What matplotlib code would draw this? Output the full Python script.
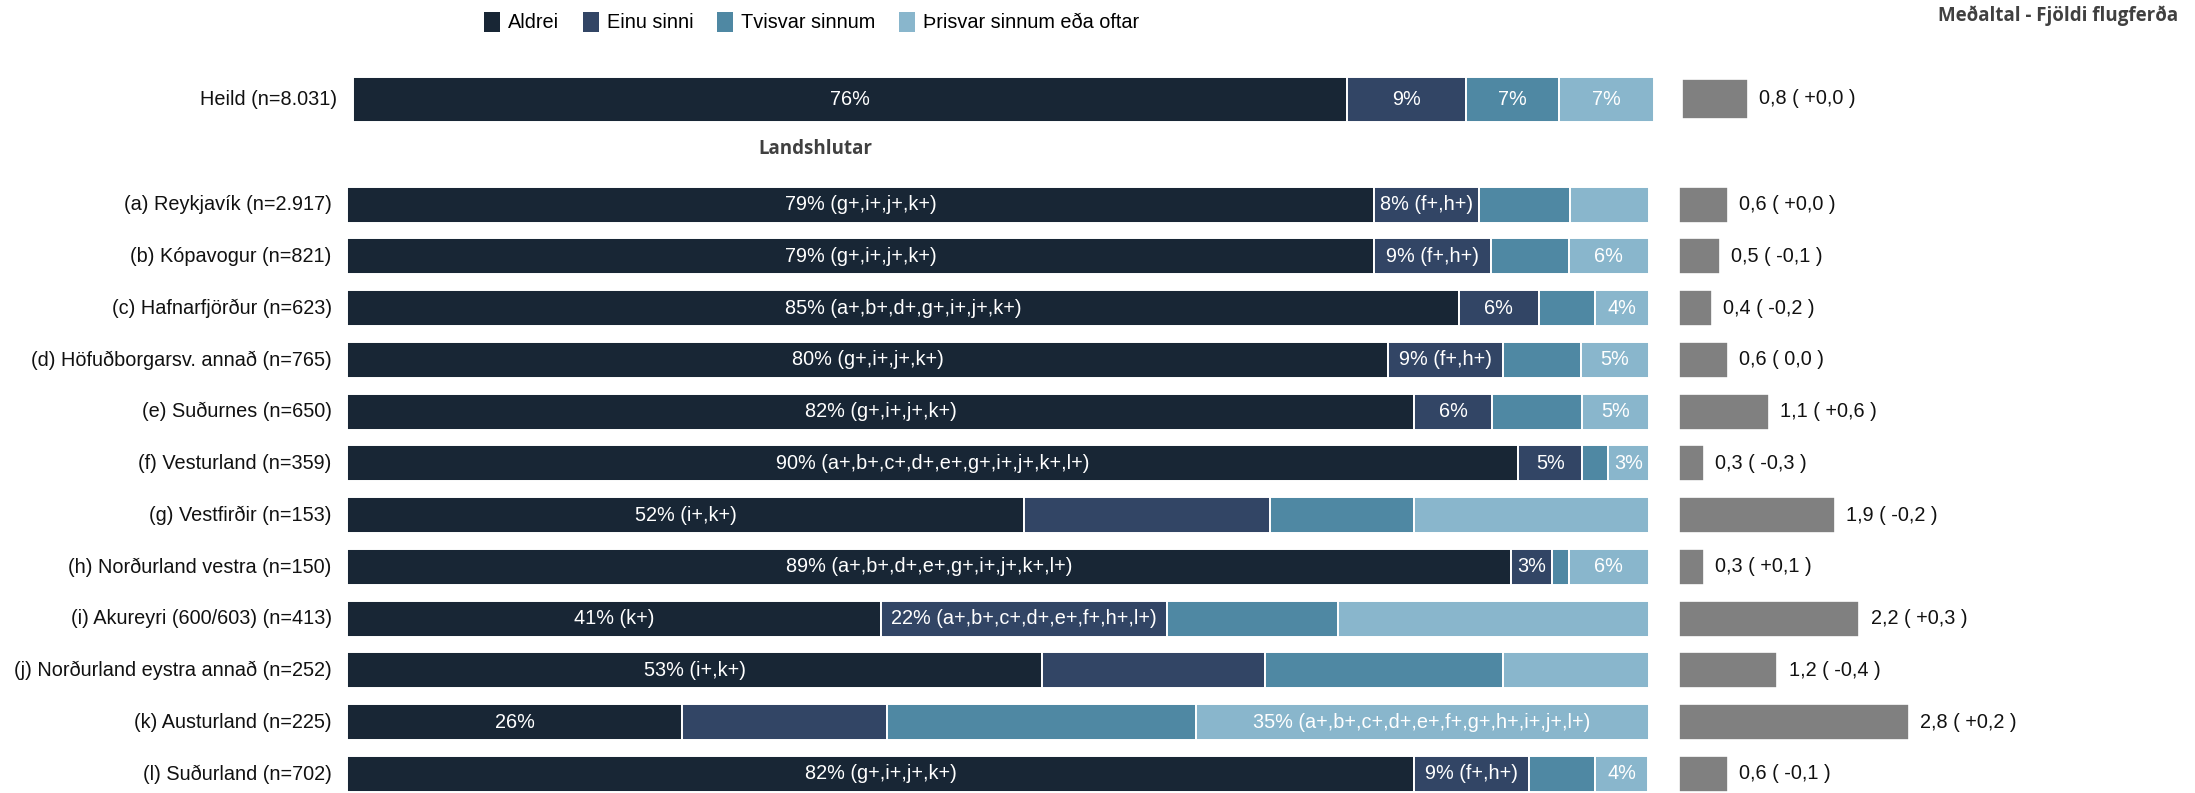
import matplotlib
matplotlib.use('Agg')
import matplotlib.pyplot as plt
from matplotlib.patches import Patch
import numpy as np

plt.rcParams['font.family'] = ['Liberation Sans', 'DejaVu Sans']

# ---- data ----
series = ['Aldrei', 'Einu sinni', 'Tvisvar sinnum', 'Þrisvar sinnum eða oftar']
colors = ['#182635', '#324565', '#4F88A3', '#89B6CC']

total_label = 'Heild (n=8.031)'
total_pct = [76.4, 9.1, 7.2, 7.3]
total_notes = ['', '', '', '']
total_mean = 0.8
total_change = '+0,0'

regions = [
    '(a) Reykjavík (n=2.917)',
    '(b) Kópavogur (n=821)',
    '(c) Hafnarfjörður (n=623)',
    '(d) Höfuðborgarsv. annað (n=765)',
    '(e) Suðurnes (n=650)',
    '(f) Vesturland (n=359)',
    '(g) Vestfirðir (n=153)',
    '(h) Norðurland vestra (n=150)',
    '(i) Akureyri (600/603) (n=413)',
    '(j) Norðurland eystra annað (n=252)',
    '(k) Austurland (n=225)',
    '(l) Suðurland (n=702)',
]
aldrei = [78.9, 78.9, 85.4, 80.0, 82.0, 90.0, 52.0, 89.4, 41.0, 53.4, 25.7, 82.0]
einu = [8.1, 9.0, 6.2, 8.8, 6.0, 4.9, 18.9, 3.2, 22.0, 17.1, 15.8, 8.8]
tvisvar = [7.0, 6.0, 4.3, 6.0, 6.9, 2.0, 11.1, 1.3, 13.1, 18.3, 23.7, 5.1]
thrisvar = [6.0, 6.1, 4.1, 5.2, 5.1, 3.1, 18.0, 6.1, 23.9, 11.2, 34.8, 4.1]

# significance notes per segment (None = no label shown)
notes_aldrei = ['(g+,i+,j+,k+)', '(g+,i+,j+,k+)', '(a+,b+,d+,g+,i+,j+,k+)', '(g+,i+,j+,k+)',
                '(g+,i+,j+,k+)', '(a+,b+,c+,d+,e+,g+,i+,j+,k+,l+)', '(i+,k+)',
                '(a+,b+,d+,e+,g+,i+,j+,k+,l+)', '(k+)', '(i+,k+)', '', '(g+,i+,j+,k+)']
notes_einu = ['(f+,h+)', '(f+,h+)', '', '(f+,h+)', '', '', None, '',
              '(a+,b+,c+,d+,e+,f+,h+,l+)', None, None, '(f+,h+)']
notes_tvisvar = [None] * 12
notes_thrisvar = [None, '', '', '', '', '', None, '', None, None,
                  '(a+,b+,c+,d+,e+,f+,g+,h+,i+,j+,l+)', '']

means = [0.6, 0.5, 0.4, 0.6, 1.1, 0.3, 1.9, 0.3, 2.2, 1.2, 2.8, 0.6]
changes = ['+0,0', '-0,1', '-0,2', '0,0', '+0,6', '-0,3', '-0,2', '+0,1', '+0,3', '-0,4', '+0,2', '-0,1']

# ---- layout (figure pixels) ----
W, H = 2195, 793
fig = plt.figure(figsize=(W / 100, H / 100), dpi=100)
fig.patch.set_facecolor('white')
FS = 14.3
ROW = 51.75
BAR_H = 36 / ROW
PX_PER_UNIT = 82


def px_axes(x0, y0, x1, y1):
    ax = fig.add_axes([x0 / W, 1 - y1 / H, (x1 - x0) / W, (y1 - y0) / H])
    ax.set_axis_off()
    return ax


def stacked(ax, ypos, table, notes, height):
    left = np.zeros(len(ypos))
    for vals, nts, col in zip(table, notes, colors):
        vals = np.asarray(vals)
        ax.barh(ypos, vals, left=left, height=height, color=col,
                edgecolor='white', linewidth=1.4)
        for y, l, v, n in zip(ypos, left, vals, nts):
            if n is None:
                continue
            txt = f'{v:.0f}%' + (' ' + n if n else '')
            ax.text(l + v / 2, y, txt, ha='center', va='center',
                    color='white', fontsize=FS)
        left = left + vals


def mean_bars(ax, ypos, vals, chg, height):
    ax.barh(ypos, vals, height=height, color='#808080',
            edgecolor='white', linewidth=1.2)
    for y, m, c in zip(ypos, vals, chg):
        ax.annotate(f'{m:.1f}'.replace('.', ',') + f' ( {c} )', xy=(m, y),
                    xytext=(8, 0), textcoords='offset points',
                    va='center', ha='left', fontsize=FS, color='#111111')


# total row
ax0 = px_axes(353.3, 77.3, 1654.3, 121.7)
ax0.set_xlim(0, 100)
ax0.set_ylim(0.5, -0.5)
stacked(ax0, [0], [[v] for v in total_pct], [[n] for n in total_notes], 1.0)
ax0.text(-16 / 13.01, 0, total_label, ha='right', va='center', fontsize=FS, color='#111111')

axm0 = px_axes(1682, 79, W, 119)
axm0.set_xlim(0, (W - 1682) / PX_PER_UNIT)
axm0.set_ylim(0.5, -0.5)
mean_bars(axm0, [0], [total_mean], [total_change], 1.0)

# regional rows
top = 204.7 - ROW / 2
ylim_bottom = -0.5 + (H - top) / ROW
ypos = np.arange(len(regions))

ax1 = px_axes(347.3, top, 1648.5, H)
ax1.set_xlim(0, 100)
ax1.set_ylim(ylim_bottom, -0.5)
stacked(ax1, ypos, [aldrei, einu, tvisvar, thrisvar],
        [notes_aldrei, notes_einu, notes_tvisvar, notes_thrisvar], BAR_H)
for y, lab in zip(ypos, regions):
    ax1.text(-15.5 / 13.01, y, lab, ha='right', va='center', fontsize=FS, color='#111111')

axm1 = px_axes(1679, top, W, H)
axm1.set_xlim(0, (W - 1679) / PX_PER_UNIT)
axm1.set_ylim(ylim_bottom, -0.5)
mean_bars(axm1, ypos, means, changes, BAR_H)

# legend and headings
handles = [Patch(facecolor=c, label=s) for c, s in zip(colors, series)]
fig.legend(handles=handles, loc='center left', bbox_to_anchor=(484 / W, 1 - 22 / H),
           ncol=4, frameon=False, fontsize=FS, handlelength=0.8, handleheight=1.2,
           handletextpad=0.4, columnspacing=1.2, borderpad=0, borderaxespad=0)

fig.text(2178 / W, 1 - 16 / H, 'Meðaltal - Fjöldi flugferða', ha='right', va='center',
         family='Open Sans', weight='bold', fontsize=13.5, color='#404040')
fig.text(815 / W, 1 - 149 / H, 'Landshlutar', ha='center', va='center',
         family='Open Sans', weight='bold', fontsize=13.5, color='#404040')

fig.savefig('out.png', dpi=100, facecolor='white')
